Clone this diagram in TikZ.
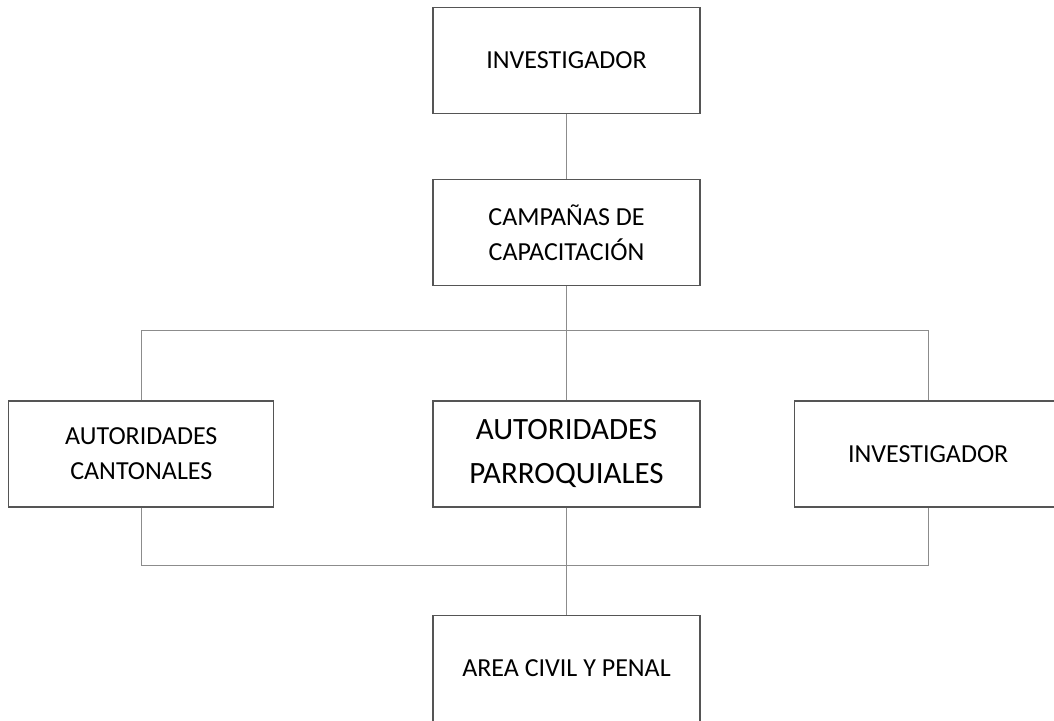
\documentclass[tikz,border=0pt]{standalone}
\usepackage{fontspec}
\setmainfont{Carlito}
\usetikzlibrary{positioning,calc}
\definecolor{boxline}{RGB}{85,85,85}
\definecolor{wire}{RGB}{140,140,140}

\begin{document}
\begin{tikzpicture}[x=1pt,y=1pt,
    box/.style={draw=boxline,line width=1.2pt,align=center,font=\fontsize{26}{35}\selectfont,minimum width=267pt,minimum height=106pt,inner sep=0pt},
    link/.style={draw=wire,line width=1.3pt}]
    \useasboundingbox (0,0) rectangle (1054,-720);
    \node[box] (inv) at (566.5,-60.5) {INVESTIGADOR};
    \node[box,below=65pt of inv] (camp) {CAMPAÑAS DE\\CAPACITACIÓN};
    \node[box,below=114pt of camp,font=\fontsize{31}{44}\selectfont] (parr) {AUTORIDADES\\PARROQUIALES};
    \node[box,left=158pt of parr,minimum width=265pt] (cant) {AUTORIDADES\\CANTONALES};
    \node[box,right=93pt of parr,minimum width=268pt] (inv2) {INVESTIGADOR};
    \node[box,below=107pt of parr] (area) {AREA CIVIL Y PENAL};
    \coordinate[below=44pt of camp] (busa);
    \coordinate[below=58pt of parr] (busb);
    \draw[link] (inv) -- (camp);
    \draw[link] (camp) -- (busa) -- (parr);
    \draw[link] (cant.north) |- (busa) -| (inv2.north);
    \draw[link] (cant.south) |- (busb) -| (inv2.south);
    \draw[link] (parr) -- (busb) -- (area);
\end{tikzpicture}
\end{document}
